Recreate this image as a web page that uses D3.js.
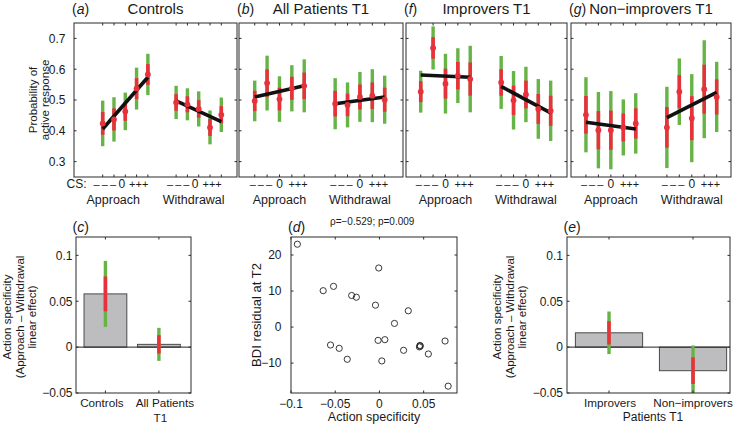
<!DOCTYPE html>
<html><head><meta charset="utf-8">
<script src="https://cdn.jsdelivr.net/npm/d3@7"></script>
<style>
body{margin:0;background:#fff;}
text{font-family:"Liberation Sans",Arial,Helvetica,sans-serif;fill:#1a1a1a;}
</style></head>
<body>
<svg id="chart" width="736" height="427"></svg>
<script>
// ---------------- DATA ----------------
const topGroups = ["Controls", "All Patients T1", "Improvers T1", "Non\u2212improvers T1"];
const topLetters = ["a", "b", "f", "g"];
const conditions = ["Approach", "Withdrawal"];
const csTickLabels = ["\u2013 \u2013 \u2013", "0", "+++"];
const yTicksTop = [0.3, 0.4, 0.5, 0.6, 0.7];
const posApproach = [1, 2, 3, 4, 5];
const posWithdrawal = [7.5, 8.5, 9.5, 10.5, 11.5];

// mean probability of active response per CS level (-- - 0 + ++)
const controlsApproach     = [0.424, 0.437, 0.463, 0.537, 0.583];
const controlsWithdrawal   = [0.492, 0.486, 0.471, 0.411, 0.452];
const allPatApproach       = [0.497, 0.555, 0.503, 0.538, 0.546];
const allPatWithdrawal     = [0.488, 0.484, 0.510, 0.514, 0.501];
const improversApproach    = [0.527, 0.669, 0.553, 0.579, 0.568];
const improversWithdrawal  = [0.557, 0.499, 0.518, 0.471, 0.465];
const nonImpApproach       = [0.452, 0.402, 0.402, 0.411, 0.424];
const nonImpWithdrawal     = [0.411, 0.527, 0.441, 0.535, 0.510];
// 95% CI half-widths (green); red = SEM
const controlsApproachCI    = [0.074, 0.072, 0.061, 0.068, 0.067];
const controlsWithdrawalCI  = [0.054, 0.052, 0.057, 0.055, 0.056];
const allPatApproachCI      = [0.066, 0.089, 0.074, 0.075, 0.086];
const allPatWithdrawalCI    = [0.083, 0.073, 0.081, 0.086, 0.078];
const improversApproachCI   = [0.068, 0.070, 0.097, 0.089, 0.108];
const improversWithdrawalCI = [0.086, 0.095, 0.090, 0.097, 0.098];
const nonImpApproachCI      = [0.122, 0.124, 0.127, 0.091, 0.098];
const nonImpWithdrawalCI    = [0.132, 0.108, 0.143, 0.159, 0.114];
// linear fit (value at -- and at ++)
const controlsApproachFit    = [0.406, 0.574];
const controlsWithdrawalFit  = [0.497, 0.430];
const allPatApproachFit      = [0.510, 0.546];
const allPatWithdrawalFit    = [0.488, 0.510];
const improversApproachFit   = [0.581, 0.574];
const improversWithdrawalFit = [0.544, 0.458];
const nonImpApproachFit      = [0.428, 0.406];
const nonImpWithdrawalFit    = [0.443, 0.525];

// panel (c)
const cCategories = [["Controls"], ["All Patients", "T1"]];
const cValues = [0.058, 0.003];
const cCI = [0.036, 0.018];
const cSE = [0.019, 0.010];
// panel (e)
const eCategories = [["Improvers"], ["Non\u2212improvers"]];
const eValues = [0.0156, -0.0257];
const eCI = [0.0232, 0.0275];
const eSE = [0.0127, 0.0145];
const barYTicks = [-0.05, 0, 0.05, 0.1];

// panel (d)
const actionSpec = [-0.0928,-0.0636,-0.0519,-0.0314,-0.0261,-0.0008,-0.0045,0.0326,0.0170,-0.0553,-0.0455,-0.0364,-0.0015,0.0061,0.0027,0.0273,0.0452,0.0458,0.0462,0.0553,0.0742,0.0777];
const bdiResid   = [23.0,10.1,11.3,8.76,8.29,16.4,6.08,4.52,1.01,-4.98,-5.90,-8.94,-3.69,-3.50,-9.40,-6.45,-5.50,-5.10,-5.30,-7.47,-3.87,-16.4];
const dXTicks = [-0.1, -0.05, 0, 0.05];
const dYTicks = [-10, 0, 10, 20];
const dStat = "\u03c1=\u22120.529; p=0.009";

// ---------------- STYLE / LAYOUT ----------------
const GREEN = "#67b346", RED = "#e8323b", AXIS = "#2b2b2b", BARFILL = "#bdbdc0";
const TL = 2.5; // tick length
const svg = d3.select("#chart");

function fmtMinus(s) { return s.replace("-", "\u2212"); }

function box(g, x0, y0, w, h) {
  g.append("rect").attr("x", x0).attr("y", y0).attr("width", w).attr("height", h)
    .attr("fill", "none").attr("stroke", AXIS).attr("stroke-width", 1);
}
function yTicksBoth(g, x0, w, ys) {
  ys.forEach(y => {
    g.append("line").attr("x1", x0).attr("x2", x0 + TL).attr("y1", y).attr("y2", y).attr("stroke", AXIS);
    g.append("line").attr("x1", x0 + w).attr("x2", x0 + w - TL).attr("y1", y).attr("y2", y).attr("stroke", AXIS);
  });
}
function xTicksBoth(g, y0, h, xs) {
  xs.forEach(x => {
    g.append("line").attr("x1", x).attr("x2", x).attr("y1", y0 + h).attr("y2", y0 + h - TL).attr("stroke", AXIS);
    g.append("line").attr("x1", x).attr("x2", x).attr("y1", y0).attr("y2", y0 + TL).attr("stroke", AXIS);
  });
}
function letterLabel(g, x, y, letter) {
  const lt = g.append("text").attr("x", x).attr("y", y).attr("font-size", 14);
  lt.append("tspan").text("(");
  lt.append("tspan").attr("font-style", "italic").text(letter);
  lt.append("tspan").text(")");
}

// ---------------- TOP PANELS ----------------
const topData = [
  {app: controlsApproach, wd: controlsWithdrawal, appCI: controlsApproachCI, wdCI: controlsWithdrawalCI, appFit: controlsApproachFit, wdFit: controlsWithdrawalFit},
  {app: allPatApproach, wd: allPatWithdrawal, appCI: allPatApproachCI, wdCI: allPatWithdrawalCI, appFit: allPatApproachFit, wdFit: allPatWithdrawalFit},
  {app: improversApproach, wd: improversWithdrawal, appCI: improversApproachCI, wdCI: improversWithdrawalCI, appFit: improversApproachFit, wdFit: improversWithdrawalFit},
  {app: nonImpApproach, wd: nonImpWithdrawal, appCI: nonImpApproachCI, wdCI: nonImpWithdrawalCI, appFit: nonImpApproachFit, wdFit: nonImpWithdrawalFit}
];
const topLayout = [
  {x: 74,  w: 163, dom: [-1.54, 12.89], csShift: -3.5, grpShift: [-12, -5]},
  {x: 239, w: 164, dom: [-0.27, 12.98], csShift: 0, grpShift: [0, 0]},
  {x: 406, w: 161, dom: [-0.19, 12.82], csShift: 0, grpShift: [0, 0]},
  {x: 571, w: 160, dom: [-0.20, 12.65], csShift: 0, grpShift: [0, 0]}
];
const TOP_Y = 23, TOP_H = 154;
const yTop = d3.scaleLinear().domain([0.25, 0.75]).range([TOP_Y + TOP_H, TOP_Y]);

topLayout.forEach((L, i) => {
  const D = topData[i];
  const g = svg.append("g");
  const x = d3.scaleLinear().domain(L.dom).range([L.x, L.x + L.w]);
  const cx = L.x + L.w / 2;
  g.append("text").attr("x", cx).attr("y", 13.5).attr("text-anchor", "middle")
    .attr("font-size", 15).text(topGroups[i]);
  letterLabel(g, L.x - 2, 13.5, topLetters[i]);

  const allPos = posApproach.concat(posWithdrawal);
  xTicksBoth(g, TOP_Y, TOP_H, allPos.map(p => x(p)));
  yTicksBoth(g, L.x, L.w, yTicksTop.map(v => yTop(v)));

  if (i === 0) {
    yTicksTop.forEach(v => g.append("text").attr("x", L.x - 8.5).attr("y", yTop(v) + 4.3)
      .attr("text-anchor", "end").attr("font-size", 12).text(d3.format(".1f")(v)));
    const yl = g.append("text").attr("transform", `translate(37,${TOP_Y + TOP_H / 2}) rotate(-90)`)
      .attr("text-anchor", "middle").attr("font-size", 11.5);
    yl.append("tspan").attr("x", 0).attr("dy", 0).text("Probability of");
    yl.append("tspan").attr("x", 0).attr("dy", 12).text("active response");
    g.append("text").attr("x", 66.5).attr("y", 188).attr("font-size", 12).text("CS:");
  }

  const sets = [
    {pos: posApproach, m: D.app, ci: D.appCI, fit: D.appFit},
    {pos: posWithdrawal, m: D.wd, ci: D.wdCI, fit: D.wdFit}
  ];
  sets.forEach((s, k) => {
    const csPos = [(s.pos[0] + s.pos[1]) / 2, s.pos[2], (s.pos[3] + s.pos[4]) / 2];
    csTickLabels.forEach((lab, j) => {
      g.append("text").attr("x", x(csPos[j]) + L.csShift).attr("y", 188).attr("text-anchor", "middle")
        .attr("font-size", j === 1 ? 12 : 11).attr("word-spacing", j === 0 ? "-1px" : null).text(lab);
    });
    g.append("text").attr("x", x(s.pos[2]) + L.grpShift[k]).attr("y", 203.5).attr("text-anchor", "middle")
      .attr("font-size", 12.5).text(conditions[k]);
    s.m.forEach((m, j) => {
      const px = x(s.pos[j]);
      g.append("line").attr("x1", px).attr("x2", px).attr("y1", yTop(m - s.ci[j])).attr("y2", yTop(m + s.ci[j]))
        .attr("stroke", GREEN).attr("stroke-width", 3.4);
      g.append("line").attr("x1", px).attr("x2", px).attr("y1", yTop(m - s.ci[j] / 2)).attr("y2", yTop(m + s.ci[j] / 2))
        .attr("stroke", RED).attr("stroke-width", 3.6);
    });
    g.append("line").attr("x1", x(s.pos[0])).attr("x2", x(s.pos[4]))
      .attr("y1", yTop(s.fit[0])).attr("y2", yTop(s.fit[1]))
      .attr("stroke", "#111").attr("stroke-width", 3.6);
    s.m.forEach((m, j) => {
      g.append("circle").attr("cx", x(s.pos[j])).attr("cy", yTop(m)).attr("r", 2.9).attr("fill", RED);
    });
  });
  box(g, L.x, TOP_Y, L.w, TOP_H);
});

// ---------------- BAR PANELS (c) and (e) ----------------
const BOT_Y = 237, BOT_H = 156;
const yBar = d3.scaleLinear().domain([-0.05, 0.12]).range([BOT_Y + BOT_H, BOT_Y]);

function barPanel(opts) {
  const g = svg.append("g");
  const x = d3.scaleLinear().domain(opts.dom).range([opts.x, opts.x + opts.w]);
  const cats = [1, 2];
  letterLabel(g, opts.x - 3.5, 232, opts.letter);

  const clip = "clip-" + opts.letter;
  g.append("clipPath").attr("id", clip).append("rect")
    .attr("x", opts.x).attr("y", BOT_Y).attr("width", opts.w).attr("height", BOT_H);
  const inner = g.append("g").attr("clip-path", `url(#${clip})`);
  opts.values.forEach((v, j) => {
    const cxp = x(cats[j]);
    const bw = x(cats[j] + 0.4) - x(cats[j] - 0.4);
    inner.append("rect").attr("x", cxp - bw / 2).attr("y", yBar(Math.max(v, 0)))
      .attr("width", bw).attr("height", Math.abs(yBar(v) - yBar(0)))
      .attr("fill", BARFILL).attr("stroke", "#4a4a4a").attr("stroke-width", 1);
  });
  inner.append("line").attr("x1", opts.x).attr("x2", opts.x + opts.w)
    .attr("y1", yBar(0)).attr("y2", yBar(0)).attr("stroke", "#222").attr("stroke-width", 1);
  opts.values.forEach((v, j) => {
    const cxp = x(cats[j]);
    inner.append("line").attr("x1", cxp).attr("x2", cxp).attr("y1", yBar(v - opts.ci[j])).attr("y2", yBar(v + opts.ci[j]))
      .attr("stroke", GREEN).attr("stroke-width", 3.4);
    inner.append("line").attr("x1", cxp).attr("x2", cxp).attr("y1", yBar(v - opts.se[j])).attr("y2", yBar(v + opts.se[j]))
      .attr("stroke", RED).attr("stroke-width", 3.6);
  });
  xTicksBoth(g, BOT_Y, BOT_H, cats.map(c => x(c)));
  yTicksBoth(g, opts.x, opts.w, barYTicks.map(v => yBar(v)));
  box(g, opts.x, BOT_Y, opts.w, BOT_H);
  barYTicks.forEach(v => g.append("text").attr("x", opts.x - opts.lgap).attr("y", yBar(v) + 4.3)
    .attr("text-anchor", "end").attr("font-size", 12).text(fmtMinus(d3.format("")(v))));
  opts.cats.forEach((lines, j) => {
    lines.forEach((ln, k) => g.append("text").attr("x", x(cats[j]) + opts.labShift[j][k]).attr("y", 407 + k * 14.5)
      .attr("text-anchor", "middle").attr("font-size", 11.7).text(ln));
  });
  if (opts.xlabel) g.append("text").attr("x", opts.xlabel[1]).attr("y", 421).attr("text-anchor", "middle")
    .attr("font-size", 12).text(opts.xlabel[0]);
  const yl = g.append("text").attr("transform", `translate(${opts.ylx},${BOT_Y + BOT_H / 2 + 2}) rotate(-90)`)
    .attr("text-anchor", "middle").attr("font-size", 11.5);
  ["Action specificity", "(Approach \u2013 Withdrawal", "linear effect)"].forEach((t, k) =>
    yl.append("tspan").attr("x", 0).attr("dy", k === 0 ? 0 : 12.5).text(t));
}
barPanel({letter: "c", x: 76, w: 115, dom: [0.45, 2.6], values: cValues, ci: cCI, se: cSE,
  cats: cCategories, labShift: [[-3.5], [6, 1.5]], lgap: 3.5, ylx: 11});
barPanel({letter: "e", x: 567, w: 163, dom: [0.5, 2.44], values: eValues, ci: eCI, se: eSE,
  cats: eCategories, labShift: [[1], [0]], lgap: 4, ylx: 501, xlabel: ["Patients T1", 653]});

// ---------------- SCATTER (d) ----------------
(function () {
  const X0 = 291, W = 166;
  const g = svg.append("g");
  const x = d3.scaleLinear().domain([-0.1, 0.0877]).range([X0, X0 + W]);
  const y = d3.scaleLinear().domain([-18.3, 25]).range([BOT_Y + BOT_H, BOT_Y]);
  letterLabel(g, 288, 232, "d");
  g.append("text").attr("x", 330).attr("y", 225).attr("font-size", 10).text(dStat);
  xTicksBoth(g, BOT_Y, BOT_H, dXTicks.map(v => x(v)));
  yTicksBoth(g, X0, W, dYTicks.map(v => y(v)));
  box(g, X0, BOT_Y, W, BOT_H);
  actionSpec.forEach((v, i) => g.append("circle").attr("cx", x(v)).attr("cy", y(bdiResid[i])).attr("r", 3.1)
    .attr("fill", "none").attr("stroke", "#222").attr("stroke-width", 0.9));
  dXTicks.forEach(v => g.append("text").attr("x", x(v)).attr("y", 408).attr("text-anchor", "middle")
    .attr("font-size", 12).text(fmtMinus(String(v))));
  dYTicks.forEach(v => g.append("text").attr("x", X0 - 9.5).attr("y", y(v) + 4.3).attr("text-anchor", "end")
    .attr("font-size", 12).text(fmtMinus(String(v))));
  g.append("text").attr("x", 374).attr("y", 421).attr("text-anchor", "middle").attr("font-size", 12.5)
    .text("Action specificity");
  g.append("text").attr("transform", `translate(261,${BOT_Y + BOT_H / 2}) rotate(-90)`)
    .attr("text-anchor", "middle").attr("font-size", 13).text("BDI residual at T2");
})();
</script>
</body></html>
